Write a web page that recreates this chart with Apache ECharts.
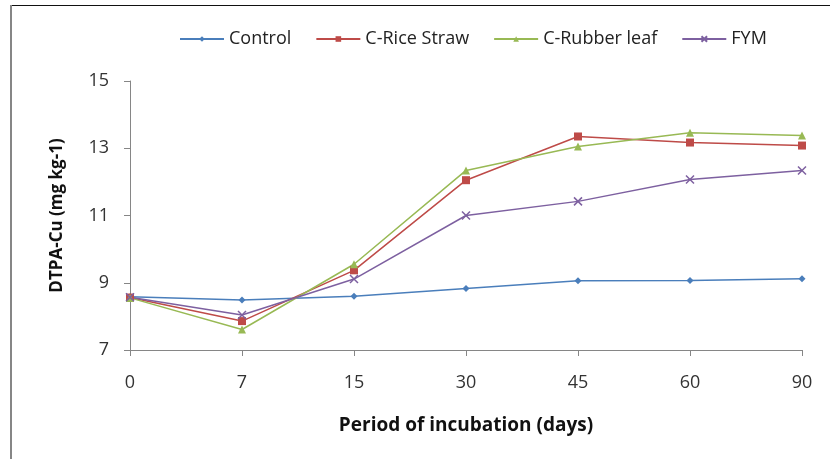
<!DOCTYPE html>
<html><head><meta charset="utf-8">
<script src="https://cdn.jsdelivr.net/npm/echarts@6/dist/echarts.min.js"></script>
<style>html,body{margin:0;padding:0;background:#fff}#c{width:830px;height:459px}</style>
</head><body><div id="c"></div>
<script>
const categories = ['0','7','15','30','45','60','90'];
const control = [8.58, 8.49, 8.60, 8.83, 9.06, 9.07, 9.12];
const riceStraw = [8.56, 7.86, 9.37, 12.05, 13.35, 13.17, 13.08];
const rubberLeaf = [8.55, 7.61, 9.55, 12.34, 13.05, 13.46, 13.38];
const fym = [8.57, 8.04, 9.11, 11.00, 11.42, 12.07, 12.34];
const seriesNames = ['Control','C-Rice Straw','C-Rubber leaf','FYM'];
const colors = ['#4A7EBB','#BE4B48','#98B954','#7D60A0'];
const symbols = ['diamond','rect','triangle','path://M0,0L10,10M10,0L0,10'];
const symbolSizes = [7,8,8,8];
const dataSets = [control, riceStraw, rubberLeaf, fym];
const font = 'Open Sans, Liberation Sans, sans-serif';

const chart = echarts.init(document.getElementById('c'), null, {renderer:'canvas'});
chart.setOption({
  animation:false,
  backgroundColor:'#fff',
  color: colors,
  graphic:[
    {type:'line', shape:{x1:10,y1:5.5,x2:830,y2:5.5}, style:{stroke:'#111',lineWidth:1}},
    {type:'line', shape:{x1:11,y1:5,x2:11,y2:459}, style:{stroke:'#868686',lineWidth:2}}
  ],
  legend:{
    top:25, left:174, itemWidth:44, itemHeight:7, itemGap:24,
    textStyle:{fontFamily:font, fontSize:18, color:'#222'},
    data: seriesNames
  },
  grid:{left:130, right:28, top:81, bottom:109, containLabel:false},
  xAxis:{
    type:'category', data:categories, boundaryGap:false,
    name:'Period of incubation (days)', nameLocation:'middle', nameGap:66,
    nameTextStyle:{fontFamily:font, fontSize:19, fontWeight:'bold', color:'#111'},
    axisLine:{lineStyle:{color:'#868686', width:1}},
    axisTick:{show:true, length:6, lineStyle:{color:'#868686'}, alignWithLabel:true},
    axisLabel:{fontFamily:font, fontSize:18, color:'#333', margin:24},
    splitLine:{show:false}
  },
  yAxis:{
    type:'value', min:7, max:15, interval:2,
    name:'DTPA-Cu (mg kg-1)', nameLocation:'middle', nameGap:64, nameRotate:90,
    nameTextStyle:{fontFamily:font, fontSize:17, fontWeight:'bold', color:'#111'},
    axisLine:{show:true, lineStyle:{color:'#868686', width:1}},
    axisTick:{show:true, length:6, lineStyle:{color:'#868686'}},
    axisLabel:{fontFamily:font, fontSize:18, color:'#333', margin:21},
    splitLine:{show:false}
  },
  series: dataSets.map((d,i)=>({
    name: seriesNames[i], type:'line', data:d,
    symbol: symbols[i], symbolSize: symbolSizes[i], showSymbol:true,
    lineStyle:{width:1.5, color:colors[i]},
    itemStyle: i===3 ? {color:'#fff', borderColor:colors[i], borderWidth:1.5} : {color:colors[i]}
  }))
});
</script></body></html>
